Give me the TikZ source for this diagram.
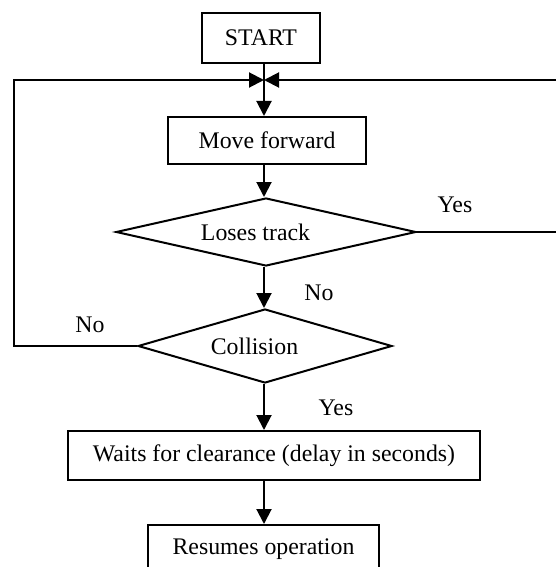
\documentclass[tikz,border=0pt]{standalone}
\usepackage{fontspec}
\setmainfont{Liberation Serif}
\usetikzlibrary{shapes.geometric,arrows.meta}
\begin{document}
\begin{tikzpicture}[x=0.5pt,y=-0.5pt,
  every node/.style={font=\fontsize{11.9}{14}\selectfont, inner sep=0pt},
  box/.style={draw, line width=1pt, rectangle, anchor=center},
  dec/.style={draw, line width=1pt, diamond, anchor=center},
  link/.style={line width=1pt},
  arr/.style={line width=1pt, -{Triangle[length=7.5pt,width=7.5pt]}}]
\useasboundingbox (0,0) rectangle (556,567);
\clip (0,0) rectangle (556,567);
% nodes
\node[box, minimum width=59pt, minimum height=25pt] (start) at (261,38) {START};
\node[box, minimum width=99pt, minimum height=23.5pt] (move) at (267,140.5) {Move forward};
\node[dec, shape aspect=4.41, minimum width=150pt, minimum height=34pt] (lose) at (266,232) {Loses track\hspace*{10.5pt}};
\node[dec, shape aspect=3.43, minimum width=127pt, minimum height=37pt] (coll) at (265,346) {Collision\hspace*{10.5pt}};
\node[box, minimum width=206pt, minimum height=24.5pt] (wait) at (274,455.5) {Waits for clearance (delay in seconds)};
\node[box, minimum width=115.5pt, minimum height=24pt] (res) at (263.5,549) {Resumes operation};
% labels
\node (yes1) at (455,205) {Yes};
\node (no1) at (319,293) {No};
\node (no2) at (90,325) {No};
\node (yes2) at (336,408) {Yes};
% coordinates
\coordinate (J) at (264,80);
\coordinate (LT) at (14,80);
\coordinate (RT) at (560,80);
\coordinate (RB) at (560,232);
% connectors
\draw[link] (start.south -| J) -- (J);
\draw[arr] (J) -- (J |- move.north);
\draw[arr] (J |- move.south) -- (J |- lose.north);
\draw[arr] (J |- lose.south) -- (J |- coll.north);
\draw[arr] (J |- coll.south) -- (J |- wait.north);
\draw[arr] (J |- wait.south) -- (J |- res.north);
\draw[arr] (coll.west) -| (LT) -- (J);
\draw[arr] (lose.east) -- (RB) -- (RT) -- (J);
\end{tikzpicture}
\end{document}
